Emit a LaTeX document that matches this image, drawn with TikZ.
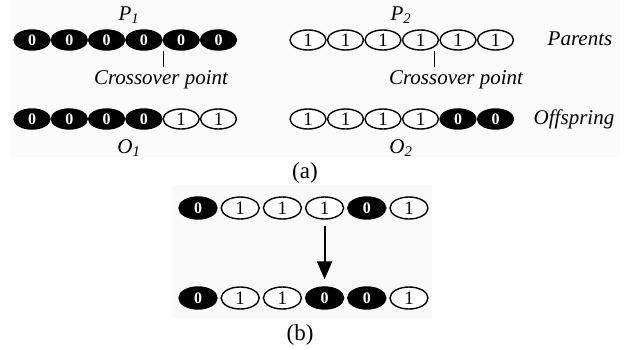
\documentclass[tikz,border=0pt]{standalone}
\usepackage{fontspec}
\setmainfont{Liberation Serif}
\usetikzlibrary{shapes.geometric,arrows.meta}

\tikzset{
  bit/.style={ellipse, inner sep=0pt, minimum width=36pt, minimum height=20pt, line width=1.4pt, draw=black},
  bit0/.style={bit, fill=black, text=white, font=\fontsize{16}{16}\selectfont\bfseries},
  bit1/.style={bit, fill=white, font=\fontsize{19}{19}\selectfont},
  wide/.style={minimum width=38pt, minimum height=22pt},
  lbl/.style={font=\fontsize{21}{21}\selectfont\itshape},
  panel/.style={font=\fontsize{23}{23}\selectfont},
}

\begin{document}
\begin{tikzpicture}[x=1pt,y=-1pt]
\useasboundingbox (0,0) rectangle (630,349);
% scanned backgrounds
\fill[gray!3] (10,0) rectangle (620,157);
\fill[gray!5] (172,185) rectangle (432,318);
% (a) parents and offspring
\foreach \b [count=\i] in {0,0,0,0,0,0} \node[bit\b] (p1-\i) at ({32+37.3*(\i-1)},40) {\b};
\foreach \b [count=\i] in {1,1,1,1,1,1} \node[bit\b] (p2-\i) at ({308+37.5*(\i-1)},40) {\b};
\foreach \b [count=\i] in {0,0,0,0,1,1} \node[bit\b] (o1-\i) at ({32+37.3*(\i-1)},119) {\b};
\foreach \b [count=\i] in {1,1,1,1,0,0} \node[bit\b] (o2-\i) at ({308+37.5*(\i-1)},119) {\b};
\node[lbl] (P1) at (129,15) {P\textsubscript{1}};
\node[lbl] (P2) at (401,15) {P\textsubscript{2}};
\node[lbl] (O1) at (129,148) {O\textsubscript{1}};
\node[lbl] (O2) at (401,148) {O\textsubscript{2}};
\node[lbl] (cp1) at (161,80) {Crossover point};
\node[lbl] (cp2) at (456,80) {Crossover point};
\node[lbl] (par) at (580,39) {Parents};
\node[lbl] (off) at (574,119) {Offspring};
\coordinate (x1) at (163,51);
\coordinate (x2) at (434,51);
\draw[line width=1pt] (x1) -- (x1 |- cp1.north);
\draw[line width=1pt] (x2) -- (x2 |- cp2.north);
\node[panel] (a) at (305,173) {(a)};
% (b) mutation
\foreach \b [count=\i] in {0,1,1,1,0,1} \node[bit\b,wide] (b1-\i) at ({198+42.2*(\i-1)},208) {\b};
\foreach \b [count=\i] in {0,1,1,0,0,1} \node[bit\b,wide] (b2-\i) at ({198+42.2*(\i-1)},298) {\b};
\draw[-{Triangle[width=15pt,length=18pt]}, line width=2pt, shorten <=6pt, shorten >=7pt] (b1-4.south) -- (b2-4.north);
\node[panel] (b) at (300,335) {(b)};
\end{tikzpicture}
\end{document}
